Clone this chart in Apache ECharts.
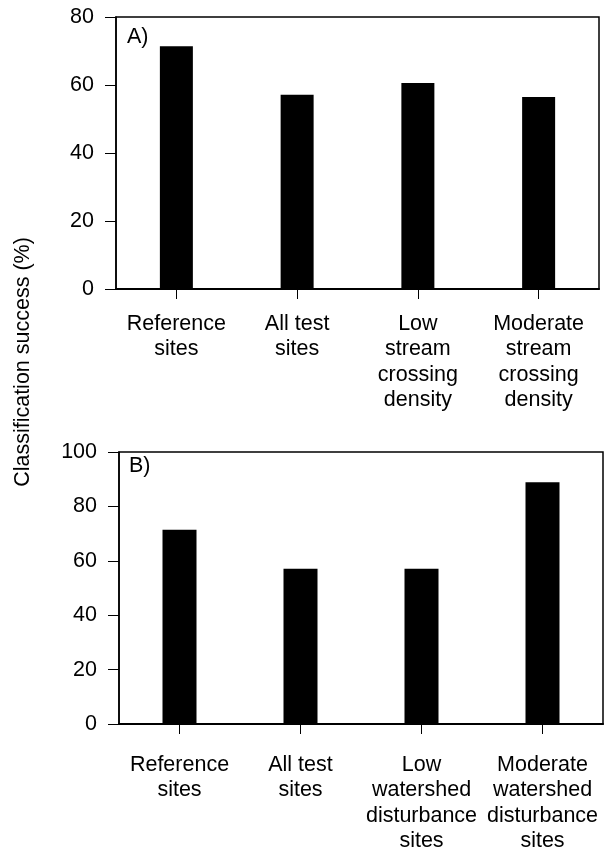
<!DOCTYPE html>
<html>
<head>
<meta charset="utf-8">
<script src="https://cdn.jsdelivr.net/npm/echarts@6/dist/echarts.min.js"></script>
<style>
html,body{margin:0;padding:0;background:#fff;}
#chart{width:606px;height:850px;}
</style>
</head>
<body>
<div id="chart"></div>
<script>
const categoriesA = ['Reference\nsites', 'All test\nsites', 'Low\nstream\ncrossing\ndensity', 'Moderate\nstream\ncrossing\ndensity'];
const valuesA = [71.4, 57.1, 60.6, 56.5];
const categoriesB = ['Reference\nsites', 'All test\nsites', 'Low\nwatershed\ndisturbance\nsites', 'Moderate\nwatershed\ndisturbance\nsites'];
const valuesB = [71.4, 57.1, 57.1, 88.9];
const yAxisA = {min: 0, max: 80, step: 20};
const yAxisB = {min: 0, max: 100, step: 20};
const yTitle = 'Classification success (%)';
const panelLabels = ['A)', 'B)'];

const FONT = '"Liberation Sans", Arial, Helvetica, sans-serif';
const FS = 21.5;
const chart = echarts.init(document.getElementById('chart'), null, {renderer: 'canvas'});

function xAxis(idx, cats, margin) {
  return {
    type: 'category', gridIndex: idx, data: cats,
    axisLine: {show: true, lineStyle: {color: '#000', width: 2}},
    axisTick: {show: true, alignWithLabel: true, length: 10, lineStyle: {color: '#000', width: 1}},
    axisLabel: {interval: 0, color: '#000', fontFamily: FONT, fontSize: FS, lineHeight: 25.5, margin: margin, align: 'center'},
    splitLine: {show: false}
  };
}
function yAxis(idx, cfg) {
  return {
    type: 'value', gridIndex: idx, min: cfg.min, max: cfg.max, interval: cfg.step,
    axisLine: {show: true, lineStyle: {color: '#000', width: 1.5}},
    axisTick: {show: true, length: 11, lineStyle: {color: '#000', width: 1}},
    axisLabel: {color: '#000', fontFamily: FONT, fontSize: FS, margin: 22},
    splitLine: {show: false}
  };
}

chart.setOption({
  animation: false,
  backgroundColor: '#fff',
  grid: [
    {left: 116, top: 17, width: 483, height: 272, show: true, borderColor: '#000', borderWidth: 1.5, backgroundColor: 'transparent', outerBoundsMode: 'none', containLabel: false},
    {left: 119, top: 452, width: 484, height: 272, show: true, borderColor: '#000', borderWidth: 1.5, backgroundColor: 'transparent', outerBoundsMode: 'none', containLabel: false}
  ],
  xAxis: [xAxis(0, categoriesA, 22), xAxis(1, categoriesB, 28)],
  yAxis: [yAxis(0, yAxisA), yAxis(1, yAxisB)],
  series: [
    {type: 'bar', xAxisIndex: 0, yAxisIndex: 0, data: valuesA, barWidth: 33, itemStyle: {color: '#000'}},
    {type: 'bar', xAxisIndex: 1, yAxisIndex: 1, data: valuesB, barWidth: 34, itemStyle: {color: '#000'}}
  ],
  graphic: [
    {type: 'text', left: 127, top: 26, style: {text: panelLabels[0], fill: '#000', font: FS + 'px ' + FONT}},
    {type: 'text', left: 129, top: 455, style: {text: panelLabels[1], fill: '#000', font: FS + 'px ' + FONT}},
    {type: 'text', x: 23, y: 362, rotation: Math.PI / 2,
     style: {text: yTitle, fill: '#000', font: FS + 'px ' + FONT, textAlign: 'center', textVerticalAlign: 'middle'}}
  ]
});
</script>
</body>
</html>
